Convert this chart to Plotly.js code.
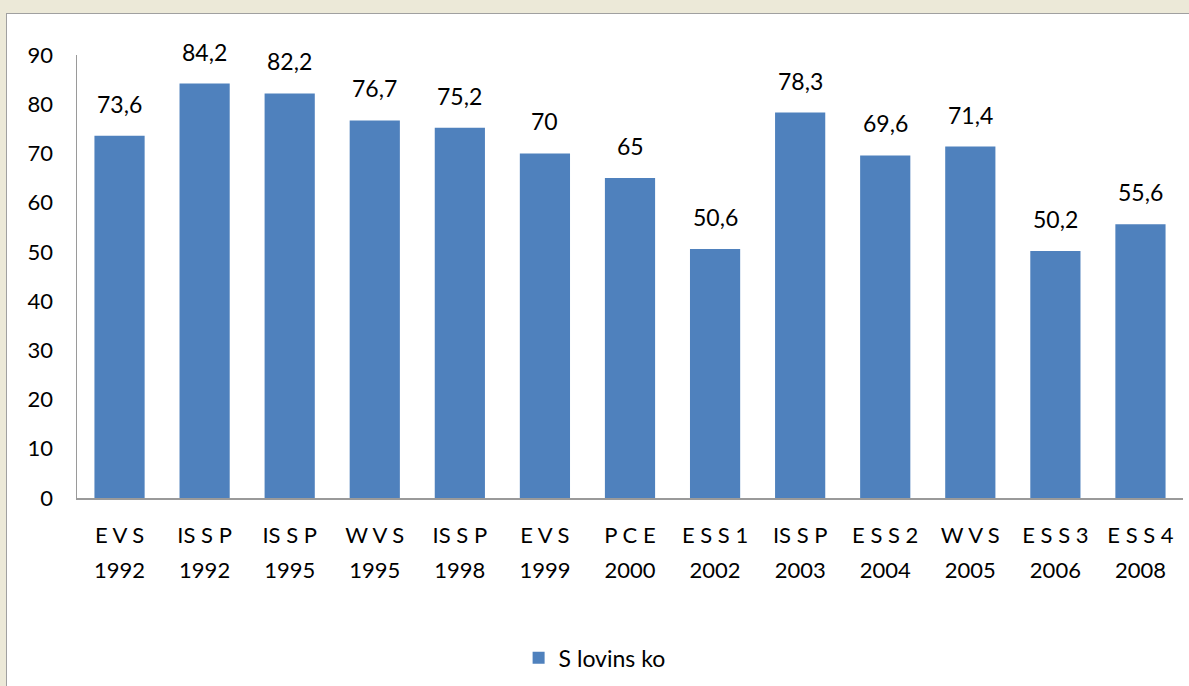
<!DOCTYPE html>
<html>
<head>
<meta charset="utf-8">
<script src="https://cdn.plot.ly/plotly-3.0.1.min.js"></script>
<style>
  html, body { margin: 0; padding: 0; width: 1189px; height: 686px; overflow: hidden; background: #ECE9D8; }
  #frame { position: absolute; left: 6px; top: 13px; width: 1183px; height: 673px; background: #ffffff;
           border-left: 1px solid #A0A0A0; border-top: 1px solid #A0A0A0; box-sizing: border-box; }
  #chart { position: absolute; left: 0; top: 0; width: 1182px; height: 672px; }
</style>
</head>
<body>
<div id="frame"><div id="chart"></div></div>
<script>
// Data
const surveys = ["E V S", "IS S P", "IS S P", "W V S", "IS S P", "E V S", "P C E", "E S S 1", "IS S P", "E S S 2", "W V S", "E S S 3", "E S S 4"];
const years = ["1992", "1992", "1995", "1995", "1998", "1999", "2000", "2002", "2003", "2004", "2005", "2006", "2008"];
const values = [73.6, 84.2, 82.2, 76.7, 75.2, 70, 65, 50.6, 78.3, 69.6, 71.4, 50.2, 55.6];
const seriesName = "S lovins ko";
const yTicks = [0, 10, 20, 30, 40, 50, 60, 70, 80, 90];

const cats = surveys.map((s, i) => i);
const fmt = v => String(v).replace(".", ",");

const FONT = "Lato, 'Liberation Sans', sans-serif";

const trace = {
  type: "bar",
  x: cats,
  y: values,
  name: seriesName,
  marker: { color: "#4F81BD" },
  width: 0.59,
  hoverinfo: "none"
};
// invisible twin on the second x axis, only to carry the year tick labels
const yearTrace = {
  type: "bar",
  x: cats,
  y: values,
  xaxis: "x2",
  yaxis: "y",
  marker: { color: "rgba(0,0,0,0)" },
  width: 0.59,
  showlegend: false,
  hoverinfo: "none"
};

const annotations = values.map((v, i) => ({
  x: cats[i], y: v, xref: "x", yref: "y",
  text: fmt(v), showarrow: false,
  yanchor: "bottom", yshift: 16,
  font: { family: FONT, size: 23, color: "#000" }
}));

const axisCommon = {
  type: "linear",
  range: [-0.5, cats.length - 0.5],
  tickmode: "array", tickvals: cats,
  showgrid: false, zeroline: false,
  tickcolor: "rgba(0,0,0,0)", ticks: "outside",
  tickfont: { family: FONT, size: 22, color: "#000" }
};

const layout = {
  width: 1182, height: 672,
  margin: { l: 70, r: 6, t: 41, b: 188 },
  paper_bgcolor: "rgba(0,0,0,0)",
  plot_bgcolor: "#ffffff",
  font: { family: FONT, size: 22, color: "#000" },
  showlegend: true,
  legend: {
    orientation: "h", x: 0.468, xanchor: "center", y: -0.361, yanchor: "middle",
    font: { family: FONT, size: 23, color: "#000" }
  },
  xaxis: Object.assign({}, axisCommon, {
    ticktext: surveys, ticklen: 17,
    showline: true, linecolor: "#9A9A9A", linewidth: 1.5
  }),
  xaxis2: Object.assign({}, axisCommon, {
    ticktext: years, ticklen: 53,
    overlaying: "x", anchor: "y", side: "bottom", showline: false
  }),
  yaxis: {
    range: [0, 90],
    tickmode: "array", tickvals: yTicks, ticktext: yTicks.map(String),
    showgrid: false, zeroline: false,
    showline: true, linecolor: "#9A9A9A", linewidth: 1.5,
    ticks: "outside", ticklen: 18, tickcolor: "rgba(0,0,0,0)",
    tickfont: { family: FONT, size: 22, color: "#000" }
  },
  annotations: annotations
};

Plotly.newPlot("chart", [trace, yearTrace], layout, { displayModeBar: false, staticPlot: true });
</script>
</body>
</html>
